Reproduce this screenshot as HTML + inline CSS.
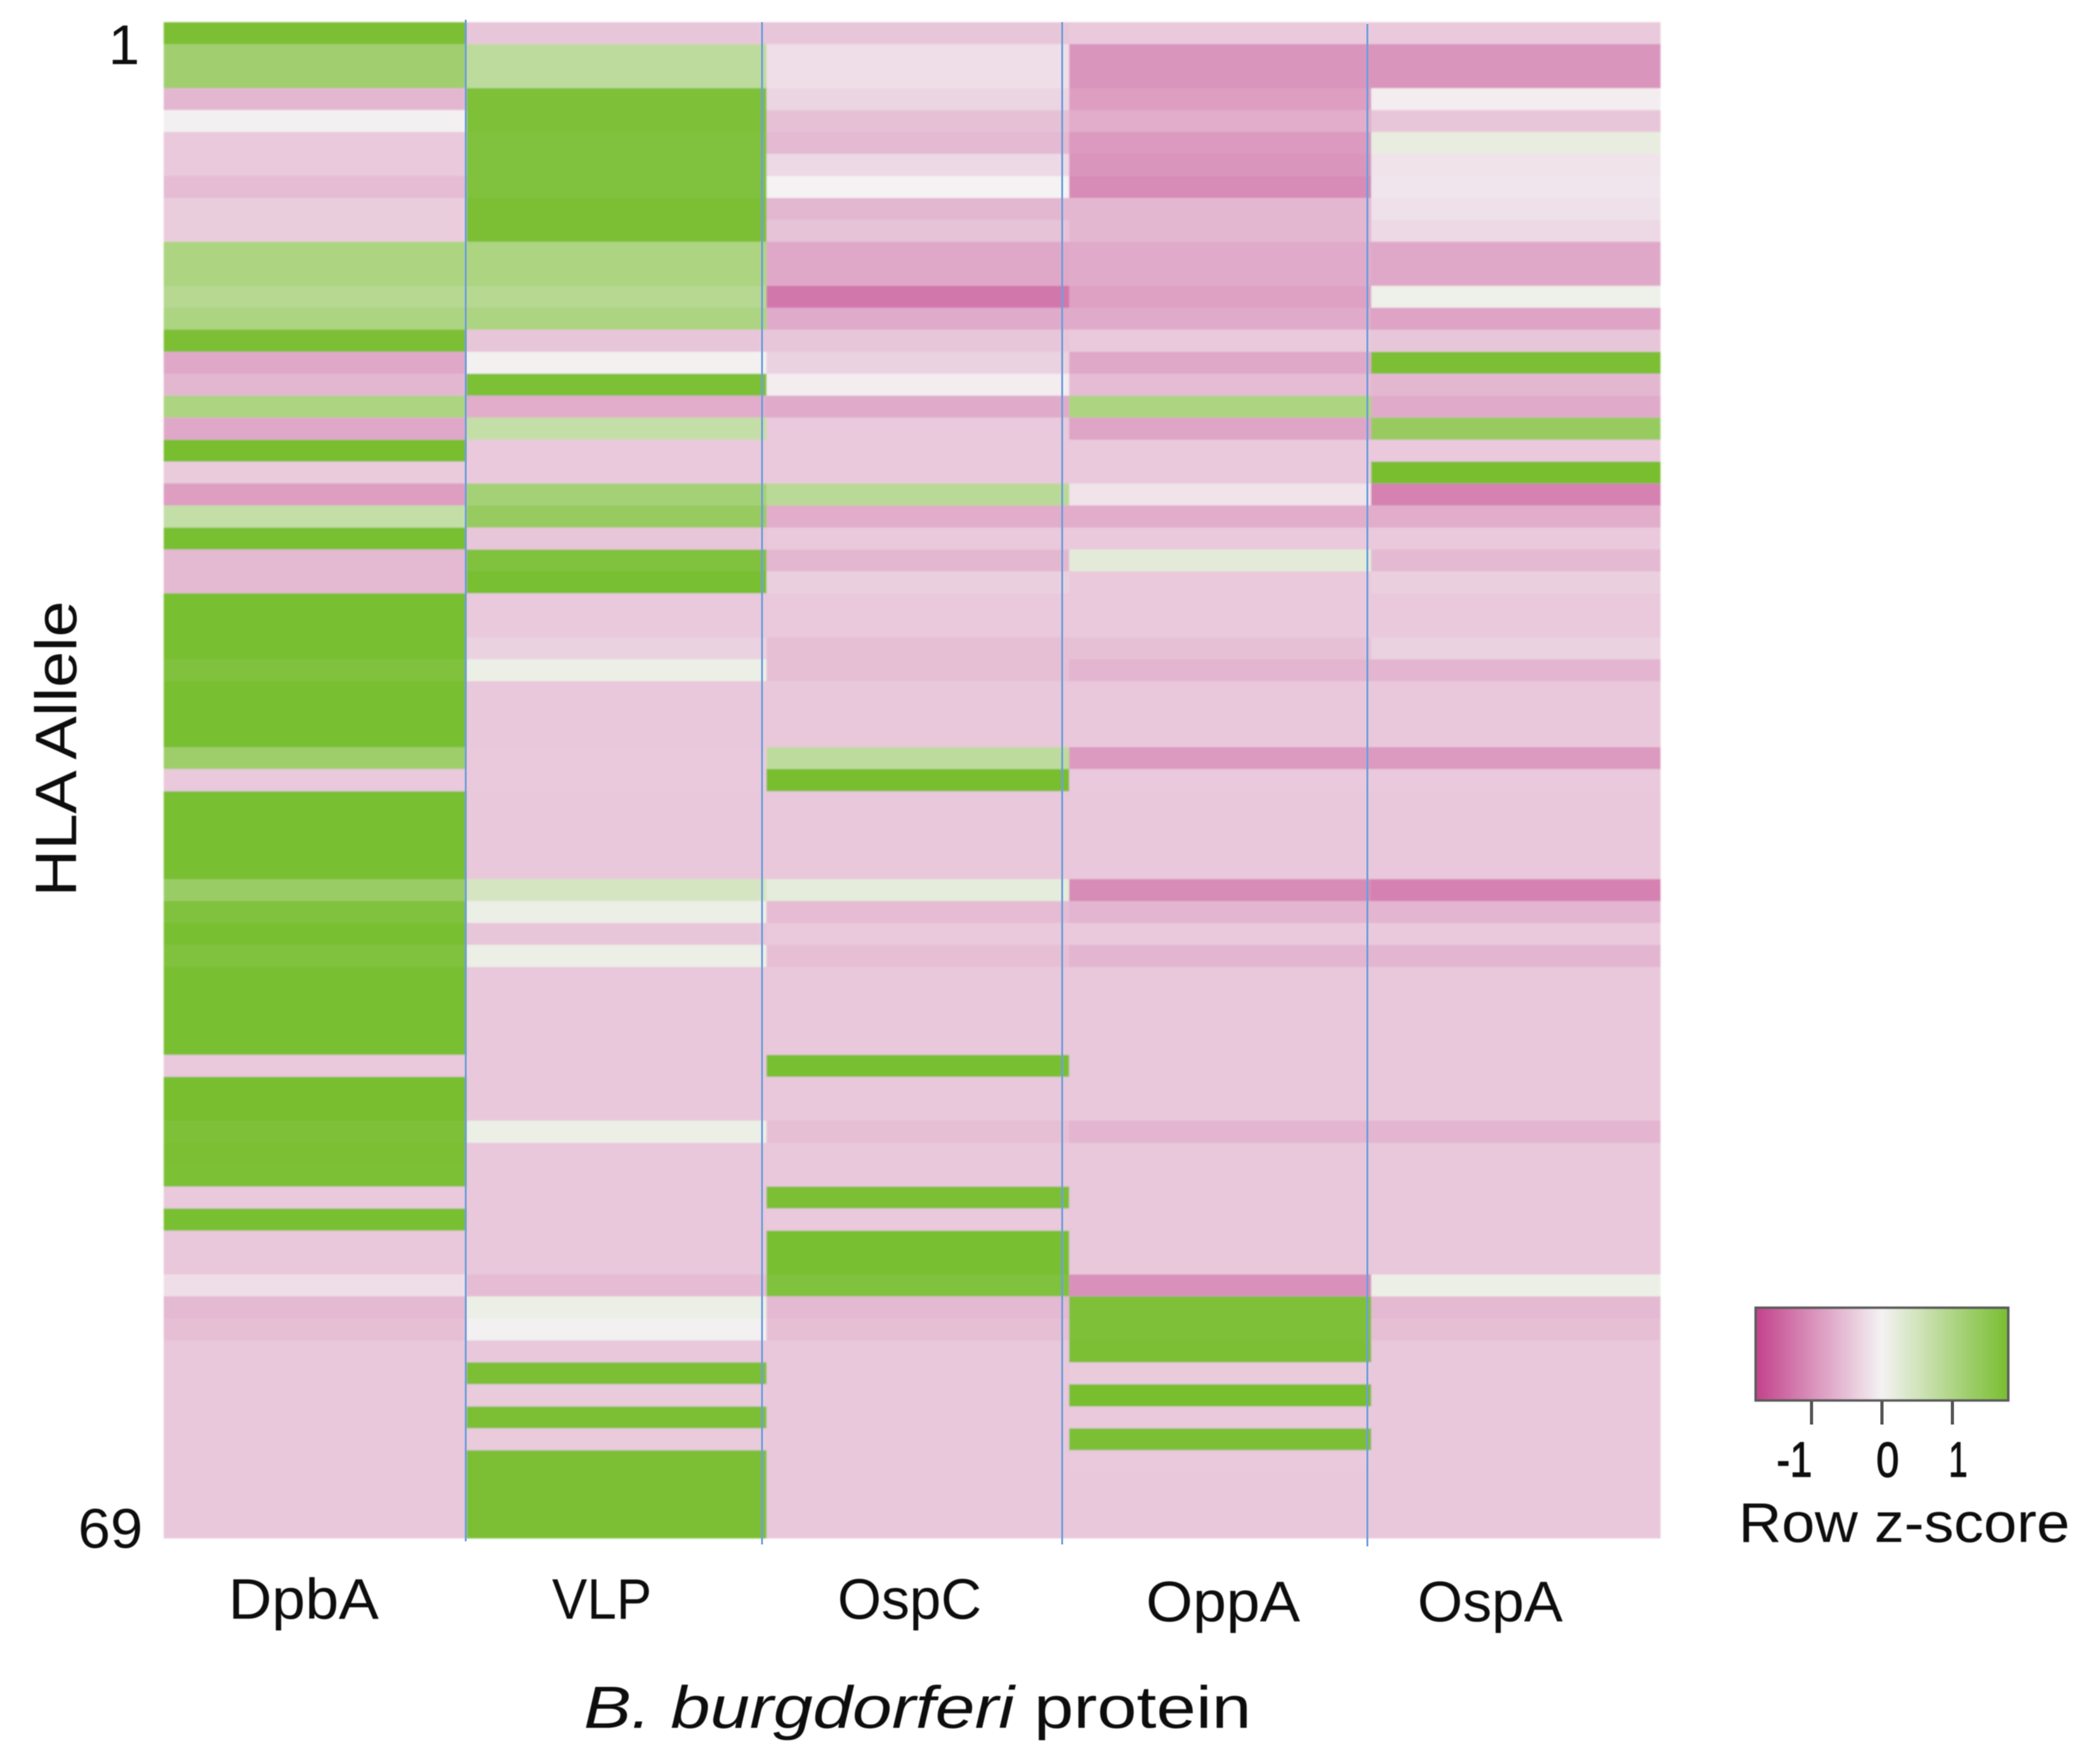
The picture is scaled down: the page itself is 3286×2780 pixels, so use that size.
<!DOCTYPE html>
<html lang="en">
<head>
<meta charset="utf-8">
<title>HLA allele heatmap by B. burgdorferi protein</title>
<style>
html,body{margin:0;padding:0;background:#fff;width:3286px;height:2780px;overflow:hidden}
svg{display:block}
text{font-family:"Liberation Sans",sans-serif;fill:#0a0a0a}
</style>
</head>
<body>
<svg id="chart" xmlns="http://www.w3.org/2000/svg" width="3286" height="2780" viewBox="0 0 3286 2780">
  <defs>
    <filter id="soft" x="-2%" y="-2%" width="104%" height="104%"><feGaussianBlur stdDeviation="1.3"/></filter>
    <filter id="softText" x="-5%" y="-5%" width="110%" height="110%"><feGaussianBlur stdDeviation="0.9"/></filter>
    <linearGradient id="legendGradient" x1="0" x2="1" y1="0" y2="0"></linearGradient>
  </defs>
  <rect width="3286" height="2780" fill="#fff"/>
  <g id="cells" filter="url(#soft)" shape-rendering="crispEdges"></g>
  <g id="separators"></g>

  <g filter="url(#softText)">
    <text x="220" y="101" font-size="88" text-anchor="end">1</text>
    <text x="225" y="2439" font-size="88" text-anchor="end" textLength="102" lengthAdjust="spacingAndGlyphs">69</text>
    <text transform="translate(120,1180) rotate(-90)" font-size="92" text-anchor="middle" textLength="466" lengthAdjust="spacingAndGlyphs">HLA Allele</text>
    <text x="360" y="2551" font-size="90" textLength="237" lengthAdjust="spacingAndGlyphs">DpbA</text>
    <text x="870" y="2551" font-size="90" textLength="157" lengthAdjust="spacingAndGlyphs">VLP</text>
    <text x="1320" y="2551" font-size="90" textLength="227" lengthAdjust="spacingAndGlyphs">OspC</text>
    <text x="1806" y="2555" font-size="90" textLength="243" lengthAdjust="spacingAndGlyphs">OppA</text>
    <text x="2234" y="2555" font-size="90" textLength="229" lengthAdjust="spacingAndGlyphs">OspA</text>
    <text x="920" y="2723" font-size="94" textLength="1052" lengthAdjust="spacingAndGlyphs"><tspan font-style="italic">B. burgdorferi</tspan> protein</text>
    <text x="2740" y="2430" font-size="88" textLength="522" lengthAdjust="spacingAndGlyphs">Row z-score</text>
  </g>

  <g id="legend">
    <rect x="2767" y="2061" width="398" height="146" fill="url(#legendGradient)" stroke="#5a5a5a" stroke-width="4" filter="url(#softText)"/>
  </g>
</svg>
<script>
const proteins = ["DpbA", "VLP", "OspC", "OppA", "OspA"];
const legendTicks = [-1, 0, 1];
const legendTickLabels = ["-1", "0", "1"];

const zDpbA = [1.75,1.2,1.2,-.6,-.02,-.42,-.42,-.55,-.38,-.38,1.05,1.05,.9,1.05,1.75,-.75,-.6,1.05,-.75,1.8,-.4,-.85,.7,1.78,-.58,-.58,1.78,1.78,1.78,1.68,1.78,1.78,1.78,1.25,-.42,1.78,1.78,1.78,1.78,1.3,1.68,1.78,1.68,1.78,1.78,1.78,1.78,-.42,1.8,1.8,1.72,1.75,1.74,-.42,1.78,-.43,-.43,-.2,-.58,-.52,-.43,-.43,-.43,-.43,-.43,-.43,-.43,-.43,-.43];
const zVLP = [-.45,.8,.8,1.72,1.72,1.68,1.68,1.68,1.75,1.75,1.05,1.05,.9,1.05,-.45,.03,1.74,-.7,.7,-.42,-.42,1.15,1.35,-.45,1.68,1.78,-.42,-.42,-.33,.12,-.43,-.43,-.43,-.42,-.42,-.43,-.43,-.43,-.43,.45,.12,-.45,.12,-.43,-.43,-.43,-.43,-.43,-.43,-.43,.12,-.43,-.43,-.43,-.43,-.43,-.43,-.55,.12,-.02,-.43,1.75,-.4,1.75,-.4,1.75,1.75,1.75,1.75];
const zOspC = [-.45,-.2,-.2,-.3,-.5,-.58,-.25,0,-.6,-.48,-.75,-.75,-1.25,-.72,-.45,-.33,-.05,-.72,-.42,-.42,-.42,.85,-.7,-.42,-.6,-.35,-.42,-.42,-.52,-.52,-.43,-.43,-.43,.8,1.8,-.43,-.43,-.43,-.43,.22,-.55,-.42,-.52,-.43,-.43,-.43,-.43,1.78,-.43,-.43,-.52,-.43,-.43,1.75,-.42,1.78,1.78,1.68,-.58,-.52,-.43,-.43,-.43,-.43,-.43,-.43,-.43,-.43,-.43];
const zOppA = [-.42,-.95,-.95,-.85,-.7,-.9,-.95,-1.05,-.6,-.6,-.72,-.72,-.82,-.72,-.42,-.75,-.55,1.05,-.78,-.42,-.42,-.15,-.7,-.42,.25,-.42,-.42,-.42,-.5,-.62,-.43,-.43,-.43,-.9,-.42,-.43,-.43,-.43,-.43,-1.05,-.62,-.42,-.62,-.43,-.43,-.43,-.43,-.43,-.43,-.43,-.62,-.43,-.43,-.43,-.43,-.43,-.43,-1,1.72,1.72,1.75,-.4,1.85,-.42,1.75,-.42,-.43,-.43,-.43];
const zOspA = [-.42,-.95,-.95,-.05,-.45,.18,-.15,-.13,-.17,-.25,-.75,-.75,.08,-.8,-.45,1.75,-.6,-.72,1.35,-.42,1.85,-1.15,-.7,-.42,-.58,-.35,-.42,-.42,-.33,-.62,-.43,-.43,-.43,-.9,-.42,-.43,-.43,-.43,-.43,-1.15,-.62,-.42,-.62,-.43,-.43,-.43,-.43,-.43,-.43,-.43,-.62,-.43,-.43,-.43,-.43,-.43,-.43,.12,-.58,-.52,-.43,-.43,-.43,-.43,-.43,-.43,-.43,-.43,-.43];
const seriesByProtein = [zDpbA, zVLP, zOspC, zOppA, zOspA];

const SVG_NS = "http://www.w3.org/2000/svg";
const ROW_COUNT = zDpbA.length;
const PLOT_TOP = 35;
const PLOT_BOTTOM = 2424;

function rowY(rowIndex) {
  return PLOT_TOP + rowIndex * (PLOT_BOTTOM - PLOT_TOP) / ROW_COUNT;
}
function columnEdge(columnIndex) {
  switch (columnIndex) {
    case 0: return 258;
    case 1: return 735;
    case 2: return 1208;
    case 3: return 1685;
    case 4: return 2161;
    default: return 2617;
  }
}
function legendX(value) {
  return 2966 + value * 111;
}
function mix(a, b, t) {
  return Math.round(a + (b - a) * t);
}
function colorScale(value) {
  const low = [195, 65, 140];
  const mid = [244, 242, 243];
  const high = [120, 190, 47];
  const v = Math.max(-1.8, Math.min(1.8, value));
  const end = v < 0 ? low : high;
  const t = Math.abs(v) / 1.8;
  return "rgb(" + mix(mid[0], end[0], t) + "," + mix(mid[1], end[1], t) + "," + mix(mid[2], end[2], t) + ")";
}

const cellLayer = document.getElementById("cells");
proteins.forEach(function (protein, columnIndex) {
  seriesByProtein[columnIndex].forEach(function (value, rowIndex) {
    const cell = document.createElementNS(SVG_NS, "rect");
    cell.setAttribute("x", columnEdge(columnIndex));
    cell.setAttribute("y", rowY(rowIndex));
    cell.setAttribute("width", columnEdge(columnIndex + 1) - columnEdge(columnIndex));
    cell.setAttribute("height", rowY(rowIndex + 1) - rowY(rowIndex) + 0.5);
    cell.setAttribute("fill", colorScale(value));
    
    
    cell.setAttribute("data-protein", protein);
    cell.setAttribute("data-row", rowIndex + 1);
    cellLayer.appendChild(cell);
  });
});

const separatorLayer = document.getElementById("separators");
function separatorX(index) {
  switch (index) {
    case 0: return 734;
    case 1: return 1201;
    case 2: return 1674;
    default: return 2155;
  }
}
function separatorEnd(index) {
  switch (index) {
    case 0: return 2429;
    case 1: return 2434;
    case 2: return 2434;
    default: return 2437;
  }
}
for (let i = 0; i < proteins.length - 1; i++) {
  const line = document.createElementNS(SVG_NS, "line");
  line.setAttribute("x1", separatorX(i));
  line.setAttribute("x2", separatorX(i));
  line.setAttribute("y1", i === 0 ? 31 : (i === 3 ? 38 : 35));
  line.setAttribute("y2", separatorEnd(i));
  line.setAttribute("stroke", "#6f9fdc");
  line.setAttribute("stroke-width", "3");
  
  
  separatorLayer.appendChild(line);
}

const gradient = document.getElementById("legendGradient");
for (let s = 0; s <= 36; s++) {
  const stop = document.createElementNS(SVG_NS, "stop");
  stop.setAttribute("offset", (s / 36 * 100) + "%");
  stop.setAttribute("stop-color", colorScale(-1.8 + s * 0.1));
  gradient.appendChild(stop);
}

const legendLayer = document.getElementById("legend");
legendTicks.forEach(function (tick, index) {
  const mark = document.createElementNS(SVG_NS, "line");
  mark.setAttribute("x1", legendX(tick));
  mark.setAttribute("x2", legendX(tick));
  mark.setAttribute("y1", 2208);
  mark.setAttribute("y2", 2245);
  mark.setAttribute("stroke", "#555");
  mark.setAttribute("stroke-width", "5");
  
  
  legendLayer.appendChild(mark);

  const label = document.createElementNS(SVG_NS, "text");
  const text = legendTickLabels[index];
  label.textContent = text;
  label.setAttribute("x", legendX(tick) + (tick < 0 ? -27 : 9));
  label.setAttribute("y", 2327);
  label.setAttribute("font-size", "78");
  label.setAttribute("text-anchor", "middle");
  label.setAttribute("textLength", text.length > 1 ? 56 : (tick === 0 ? 36 : 30));
  label.setAttribute("lengthAdjust", "spacingAndGlyphs");
  label.setAttribute("stroke", "#0a0a0a");
  label.setAttribute("stroke-width", "1.5");
  label.setAttribute("filter", "url(#softText)");
  
  
  legendLayer.appendChild(label);
});
</script>
</body>
</html>
